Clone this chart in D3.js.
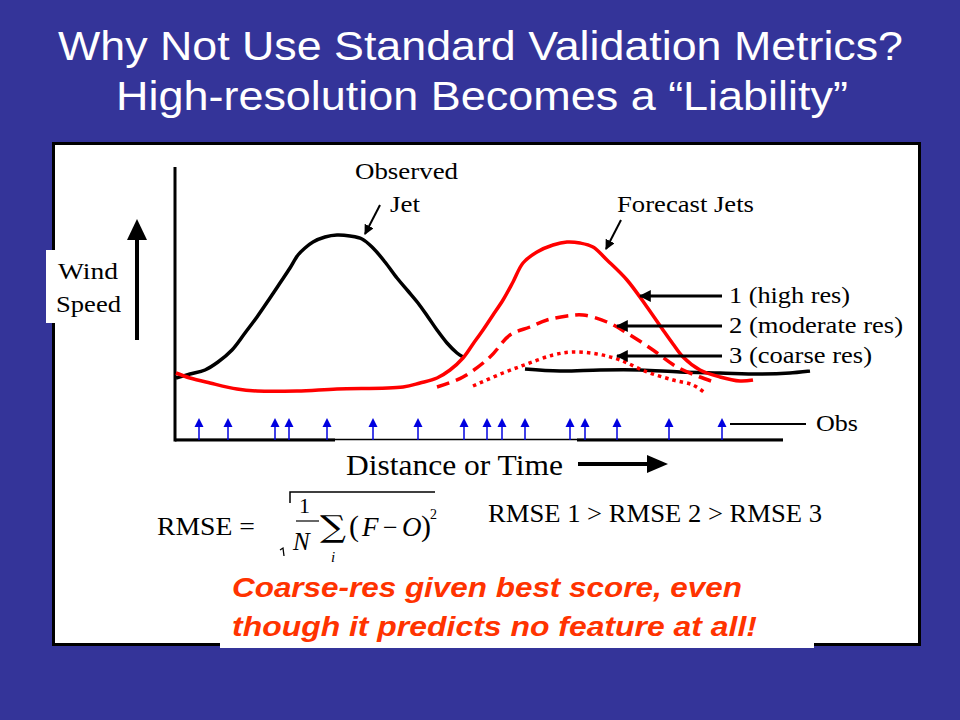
<!DOCTYPE html>
<html>
<head>
<meta charset="utf-8">
<script src="https://cdn.jsdelivr.net/npm/d3@7"></script>
<style>
  html, body { margin: 0; padding: 0; background: #343499; }
  svg { display: block; }
</style>
</head>
<body>
<svg id="chart" width="960" height="720"></svg>
<script>
// values: distance (x) and wind speed (y), arbitrary units
const observedJet = [
  [0.25, 15.5], [3.75, 16.5], [7.5, 17.5], [10.75, 19.5], [14.25, 22.5], [17.5, 26.75],
  [20.5, 30.75], [23.75, 35.5], [26.25, 39.25], [28.75, 43], [30.75, 46.25], [32.5, 48],
  [34.5, 49.5], [37.5, 50.75], [40.5, 51.25], [43.75, 51], [46.75, 50.25], [49.5, 48],
  [52.5, 44.5], [55.5, 40.5], [58.25, 37.25], [60.75, 34.25], [63.25, 30.75], [65.5, 27.5],
  [68, 24.25], [70.5, 21.75], [72, 20.75],
  null,
  [87.5, 17.75], [96.25, 17.25], [106.25, 17.5], [116.25, 17.5], [126.25, 17],
  [136.25, 16.75], [146.25, 16.5], [153.75, 16.75], [158.75, 17.25]
];
const forecastHigh = [
  [0.25, 16.75], [3.75, 15.5], [8.75, 14.25], [15.5, 12.75], [20.5, 12.25], [30.5, 12.25],
  [40.5, 12.75], [57, 13.25], [61.25, 14.25], [65.5, 15.5], [68.75, 17.5], [72, 20.5],
  [74.5, 24], [77, 27.5], [79.5, 31.25], [82, 35], [84.5, 39.5], [87, 44.25], [90.5, 47],
  [94.5, 48.75], [98, 49.5], [101.25, 49.25], [104.5, 48.25], [108, 45], [113, 40],
  [118, 33.25], [122, 27.5], [124.5, 24], [127, 20.75], [131.25, 17.5], [136.25, 15.75],
  [141.25, 14.75], [144.5, 15]
];
const forecastModerate = [
  [65.5, 13.25], [72, 15.75], [78.75, 20.75], [83.75, 26.25], [88.75, 28.25], [93, 30],
  [98, 31], [102, 31.25], [108, 29.5], [113, 26.75], [119.5, 22.5], [125.5, 18.25],
  [131.25, 15.75], [135.5, 14.25]
];
const forecastCoarse = [
  [74.5, 13.5], [82, 16.75], [88, 19], [94.5, 21.25], [99.5, 22], [105.5, 21.5],
  [111.25, 20], [118, 17], [124.5, 15], [129.5, 13.75], [132.5, 11.75]
];
const obsPositions = [6, 13.25, 25, 28.5, 38, 49.5, 60.75, 72.25, 78, 81.75, 87.5, 98.75, 102.5, 110.5, 123.5, 136.75];
const obsArrowHeight = 5.5;
const seriesLabels = ['1 (high res)', '2 (moderate res)', '3 (coarse res)'];
const titleLines = ['Why Not Use Standard Validation Metrics?', 'High-resolution Becomes a \u201CLiability\u201D'];
const noteLines = ['Coarse-res given best score, even', 'though it predicts no feature at all!'];

const svg = d3.select('#chart');
const SERIF = '"Liberation Serif", "Times New Roman", serif';
const SANS = '"Liberation Sans", Arial, sans-serif';

const x = d3.scaleLinear().domain([0, 160]).range([175, 815]);
const y = d3.scaleLinear().domain([0, 70]).range([440, 160]);

// text with a fixed width (the slide text is stretched sideways)
function fitText(g, tx, ty, w, str, size, family, opts = {}) {
  const t = g.append('text')
    .attr('x', tx).attr('y', ty)
    .attr('font-family', family).attr('font-size', size)
    .attr('fill', opts.fill || '#000')
    .text(str);
  if (w) t.attr('textLength', w).attr('lengthAdjust', 'spacingAndGlyphs');
  if (opts.weight) t.attr('font-weight', opts.weight);
  if (opts.style) t.attr('font-style', opts.style);
  return t;
}

// arrowhead markers
const defs = svg.append('defs');
[['headSmall', 5], ['headWide', 4]].forEach(([id, sz]) => {
  defs.append('marker').attr('id', id)
    .attr('viewBox', '0 0 10 10').attr('refX', 9).attr('refY', 5)
    .attr('markerWidth', sz).attr('markerHeight', sz).attr('markerUnits', 'strokeWidth')
    .attr('orient', 'auto')
    .append('path').attr('d', 'M0,0 L10,5 L0,10 Z').attr('fill', '#000');
});

// title
titleLines.forEach((line, i) => {
  fitText(svg, [58, 116][i], [60, 110][i], [845, 732][i], line, 41, SANS, { fill: '#fff' });
});

// slide panel
svg.append('rect').attr('x', 53.5).attr('y', 143.5).attr('width', 866).attr('height', 501)
  .attr('fill', '#fff').attr('stroke', '#000').attr('stroke-width', 3);
svg.append('rect').attr('x', 220).attr('y', 570).attr('width', 594).attr('height', 78).attr('fill', '#fff');
svg.append('rect').attr('x', 46).attr('y', 250).attr('width', 78).attr('height', 73).attr('fill', '#fff');

// axes
const gAxis = svg.append('g');
gAxis.append('line').attr('x1', x(0)).attr('x2', x(0)).attr('y1', 167).attr('y2', y(0) + 1.5)
  .attr('stroke', '#000').attr('stroke-width', 3);
gAxis.append('line').attr('x1', x(0)).attr('x2', 783).attr('y1', y(0) - 0.5).attr('y2', y(0) - 0.5)
  .attr('stroke', '#000').attr('stroke-width', 1.5);
[[x(0), 335], [577, 783]].forEach(([a, b]) => {
  gAxis.append('line').attr('x1', a).attr('x2', b).attr('y1', y(0)).attr('y2', y(0))
    .attr('stroke', '#000').attr('stroke-width', 3);
});

// observation arrows
const gObs = svg.append('g');
obsPositions.forEach(p => {
  const px = x(p), top = y(obsArrowHeight);
  gObs.append('line').attr('x1', px).attr('x2', px).attr('y1', y(0)).attr('y2', top + 6)
    .attr('stroke', '#0000e0').attr('stroke-width', 1.5);
  gObs.append('path').attr('d', `M${px - 4.5},${top + 9} L${px},${top} L${px + 4.5},${top + 9} Z`)
    .attr('fill', '#0000e0');
});
gObs.append('line').attr('x1', 730).attr('x2', 806).attr('y1', 424).attr('y2', 424)
  .attr('stroke', '#000').attr('stroke-width', 2);
fitText(svg, 816, 431, 42, 'Obs', 23, SERIF);

// curves
const line = d3.line()
  .defined(d => d !== null)
  .x(d => x(d[0])).y(d => y(d[1]))
  .curve(d3.curveCatmullRom.alpha(0.5));
const gCurves = svg.append('g').attr('fill', 'none').attr('stroke-linecap', 'butt');
gCurves.append('path').attr('d', line(observedJet)).attr('stroke', '#000').attr('stroke-width', 3.5);
gCurves.append('path').attr('d', line(forecastHigh)).attr('stroke', '#ff0000').attr('stroke-width', 3.5);
gCurves.append('path').attr('d', line(forecastModerate)).attr('stroke', '#ff0000').attr('stroke-width', 3.5)
  .attr('stroke-dasharray', '13,7');
gCurves.append('path').attr('d', line(forecastCoarse)).attr('stroke', '#ff0000').attr('stroke-width', 3.5)
  .attr('stroke-dasharray', '3.5,4');

// annotations
fitText(svg, 355, 179, 103, 'Observed', 23, SERIF);
fitText(svg, 390, 212, 30, 'Jet', 23, SERIF);
fitText(svg, 617, 212, 137, 'Forecast Jets', 23, SERIF);
const gAnn = svg.append('g').attr('stroke', '#000').attr('stroke-width', 2);
gAnn.append('line').attr('x1', 380).attr('y1', 205).attr('x2', 365).attr('y2', 234).attr('marker-end', 'url(#headSmall)');
gAnn.append('line').attr('x1', 621).attr('y1', 220).attr('x2', 606).attr('y2', 249).attr('marker-end', 'url(#headSmall)');
const labelY = [303, 333, 363];
const labelW = [121, 174, 143];
const labelTip = [640, 617, 617];
seriesLabels.forEach((s, i) => {
  gAnn.append('line').attr('x1', 722).attr('x2', labelTip[i]).attr('y1', labelY[i] - 7).attr('y2', labelY[i] - 7)
    .attr('stroke-width', 3).attr('marker-end', 'url(#headWide)');
  fitText(svg, 729, labelY[i], labelW[i], s, 23, SERIF);
});

// y axis title and arrow
fitText(svg, 58, 279, 60, 'Wind', 23, SERIF);
fitText(svg, 56, 312, 65, 'Speed', 23, SERIF);
svg.append('line').attr('x1', 137).attr('x2', 137).attr('y1', 340).attr('y2', 236)
  .attr('stroke', '#000').attr('stroke-width', 4);
svg.append('path').attr('d', 'M127,240 L137,219 L147,240 Z').attr('fill', '#000');

// x axis title and arrow
fitText(svg, 346, 475, 217, 'Distance or Time', 30, SERIF);
svg.append('line').attr('x1', 578).attr('x2', 650).attr('y1', 464).attr('y2', 464)
  .attr('stroke', '#000').attr('stroke-width', 4);
svg.append('path').attr('d', 'M647,455 L668,464 L647,473 Z').attr('fill', '#000');

// RMSE formula
const gF = svg.append('g');
fitText(gF, 157, 535, 98, 'RMSE =', 26, SERIF);
gF.append('path').attr('d', 'M290,503 V492 H435')
  .attr('fill', 'none').attr('stroke', '#000').attr('stroke-width', 1.5);
gF.append('path').attr('d', 'M280,550 L283,548 L284,556')
  .attr('fill', 'none').attr('stroke', '#000').attr('stroke-width', 1.3);
fitText(gF, 299, 513, null, '1', 22, SERIF);
gF.append('line').attr('x1', 296).attr('x2', 319).attr('y1', 521).attr('y2', 521)
  .attr('stroke', '#000').attr('stroke-width', 1.2);
fitText(gF, 293, 550, null, 'N', 25, SERIF, { style: 'italic' });
fitText(gF, 320, 537, 26, '\u2211', 30, '"DejaVu Serif", serif', { weight: 'normal' });
fitText(gF, 331, 562, null, 'i', 15, SERIF, { style: 'italic' });
fitText(gF, 349, 536, null, '(', 30, SERIF);
fitText(gF, 362, 536, null, 'F', 27, SERIF, { style: 'italic' });
fitText(gF, 383, 536, null, '\u2212', 26, SERIF);
fitText(gF, 402, 536, null, 'O', 27, SERIF, { style: 'italic' });
fitText(gF, 421, 536, null, ')', 30, SERIF);
fitText(gF, 430, 519, null, '2', 14, SERIF);
fitText(svg, 488, 522, 334, 'RMSE 1 > RMSE 2 > RMSE 3', 26, SERIF);

// conclusion
noteLines.forEach((s, i) => {
  fitText(svg, 232, [597, 636][i], [510, 525][i], s, 27, SANS,
    { fill: '#ff3300', weight: 'bold', style: 'italic' });
});
</script>
</body>
</html>
